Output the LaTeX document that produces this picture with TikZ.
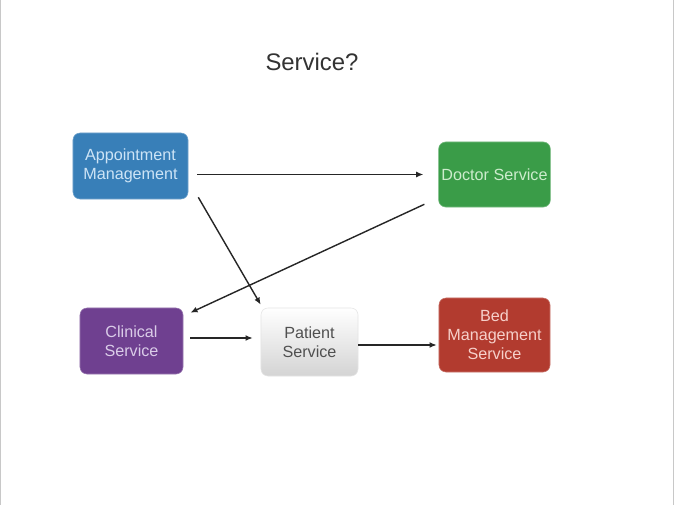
\documentclass[tikz,border=0pt]{standalone}
\usepackage{fontspec}
\setmainfont{Liberation Sans}
\usetikzlibrary{arrows.meta,calc}
\definecolor{apptblue}{RGB}{56,127,184}
\definecolor{apptfg}{RGB}{205,228,246}
\definecolor{docgreen}{RGB}{58,156,72}
\definecolor{docfg}{RGB}{205,236,205}
\definecolor{clinpurple}{RGB}{111,64,144}
\definecolor{clinfg}{RGB}{218,204,232}
\definecolor{bedred}{RGB}{178,59,47}
\definecolor{bedfg}{RGB}{246,208,202}
\definecolor{pattext}{RGB}{80,80,80}
\definecolor{edgegray}{RGB}{200,200,200}
\begin{document}
\begin{tikzpicture}[x=0.025cm,y=-0.025cm,
		svc/.style={rectangle,rounded corners=0.175cm,align=center,inner sep=2pt,
			font=\fontsize{11.5}{13.5}\selectfont},
		flow/.style={draw=black!85,line width=1pt,-{Latex[length=1.8mm,width=1.5mm]}}]
		\useasboundingbox (0,0) rectangle (675,505);
		\fill[white] (0,0) rectangle (675,505);
		\draw[edgegray,line width=0.85pt] (0.8,0) -- (0.8,505);
		\draw[edgegray,line width=0.85pt] (673.8,0) -- (673.8,505);

		\node (title) at (312,62) [font=\fontsize{17}{20}\selectfont,text=black!80] {Service?};

		\node (appt) at (130.5,166) [svc,fill=apptblue,draw=apptblue!70!white,text=apptfg,
			minimum width=2.875cm,minimum height=1.65cm] {Appointment\\Management};
		\node (doc) at (494.5,174.5) [svc,fill=docgreen,draw=docgreen!70!white,text=docfg,
			minimum width=2.775cm,minimum height=1.625cm] {Doctor Service};
		\node (clin) at (131.5,341) [svc,fill=clinpurple,draw=clinpurple!70!white,text=clinfg,
			minimum width=2.575cm,minimum height=1.65cm] {Clinical\\Service};
		\node (pat) at (309.5,342) [svc,top color=white,bottom color=black!17,draw=black!10,text=pattext,
			minimum width=2.425cm,minimum height=1.7cm] {Patient\\Service};
		\node (bed) at (494.5,335) [svc,fill=bedred,draw=bedred!70!white,text=bedfg,
			minimum width=2.775cm,minimum height=1.85cm] {Bed\\Management\\Service};

		\draw[flow] ($(appt.east |- doc.west)+(9,0)$) -- ($(doc.west)+(-15,0)$);
		\draw[flow] ($(appt.south east)+(10,-2)$) -- ($(pat.north west)+(0,-3)$);
		\draw[flow] ($(doc.south west)+(-14,-3)$) -- ($(clin.north east)+(7,5)$);
		\draw[flow] ($(clin.east)+(7,-3)$) -- ($(pat.west)+(-8,-4)$);
		\draw[flow] ($(pat.east)+(0,3)$) -- ($(bed.west)+(-2,10)$);
	\end{tikzpicture}
\end{document}
